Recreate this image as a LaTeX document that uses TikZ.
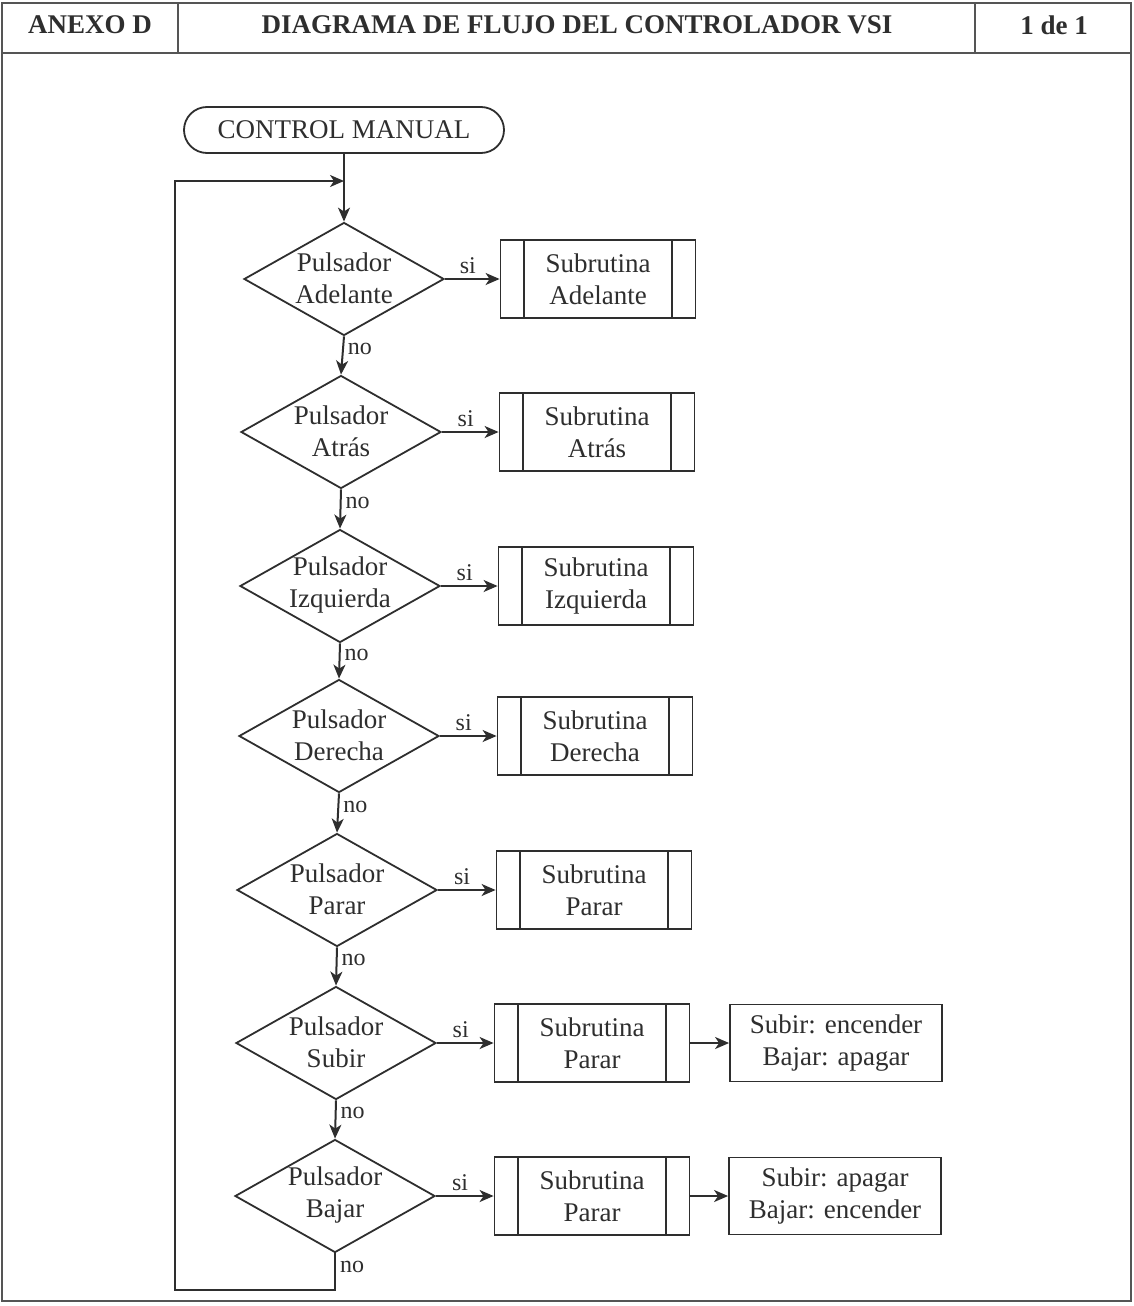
\documentclass[tikz,border=0pt]{standalone}
\usepackage{fontspec}
\setmainfont{Liberation Serif}
\usetikzlibrary{arrows.meta,shapes.geometric}
\definecolor{ink}{HTML}{2E2E2E}
\definecolor{rule}{HTML}{555555}
\begin{document}
\begin{tikzpicture}[x=1pt,y=-1pt,
  every node/.style={text=ink},
  body/.style={font=\fontsize{27}{32}\selectfont},
  small/.style={font=\fontsize{24}{28}\selectfont},
  head/.style={font=\fontsize{27}{32}\selectfont\bfseries},
  line/.style={draw=ink,line width=2pt},
  flow/.style={line,-{Stealth[length=14pt,width=12pt,inset=4pt]}},
  frame/.style={draw=rule,line width=1.5pt},
  term/.style={body,draw=ink,line width=1.8pt,rectangle,rounded corners=23pt,
    minimum width=320pt,minimum height=46pt,inner sep=0pt},
  decision/.style={diamond,draw=ink,line width=1.8pt,minimum width=200pt,
    minimum height=113pt,inner sep=0pt},
  dtext/.style={body,align=center,inner sep=0pt},
  subbox/.style={body,draw=ink,line width=1.8pt,rectangle,minimum width=195pt,
    minimum height=78pt,align=center,inner sep=0pt},
  notebox/.style={body,draw=ink,line width=1.8pt,rectangle,minimum width=212pt,
    minimum height=77pt,align=center,inner sep=0pt},
  yes/.style={small,above,inner sep=4pt},
  no/.style={small,right,inner sep=4pt}
]
\useasboundingbox (0,0) rectangle (1134,1306);

% page frame and title block
\draw[frame] (2,3) rectangle (1131,1301);
\draw[frame] (2,53) -- (1131,53);
\draw[frame] (178,3) -- (178,53);
\draw[frame] (975,3) -- (975,53);
\node[head] (hA) at (90,25) {ANEXO D};
\node[head] (hB) at (577,25) {DIAGRAMA DE FLUJO DEL CONTROLADOR VSI};
\node[head] (hC) at (1054,25) {1 de 1};

% start
\node[term] (start) at (344,130) {CONTROL MANUAL};

% decisions and subroutines
\foreach \i/\cx/\cy/\bx/\w in {1/344/279/598/Adelante,2/341/432/597/Atrás,
    3/340/586/596/Izquierda,4/339/736/595/Derecha,5/337/890/594/Parar,
    6/336/1043/592/Subir,7/335/1196/592/Bajar}{
  \node[decision] (d\i) at (\cx,\cy) {};
  \node[dtext] (t\i) at (\cx,\cy-1) {Pulsador\\\w};
}
\node[subbox] (s1) at (598,279) {Subrutina\\Adelante};
\node[subbox] (s2) at (597,432) {Subrutina\\Atrás};
\node[subbox] (s3) at (596,586) {Subrutina\\Izquierda};
\node[subbox] (s4) at (595,736) {Subrutina\\Derecha};
\node[subbox] (s5) at (594,890) {Subrutina\\Parar};
\node[subbox] (s6) at (592,1043) {Subrutina\\Parar};
\node[subbox] (s7) at (592,1196) {Subrutina\\Parar};
\foreach \i in {1,...,7}{
  \draw[line] ([xshift=24pt]s\i.north west) -- ([xshift=24pt]s\i.south west);
  \draw[line] ([xshift=-24pt]s\i.north east) -- ([xshift=-24pt]s\i.south east);
  \draw[flow] (d\i.east) -- (s\i.west) node[yes,pos=0.42] {si};
}

% extra actions
\node[notebox] (e6) at (836,1043) {Subir: encender\\Bajar: apagar};
\node[notebox] (e7) at (835,1196) {Subir: apagar\\Bajar: encender};
\draw[flow] (s6) -- (e6);
\draw[flow] (s7) -- (e7);

% main trunk
\coordinate (join) at (344,181);
\draw[flow] (start) -- (d1);
\foreach \i/\j in {1/2,2/3,3/4,4/5,5/6,6/7}{
  \draw[flow] (d\i.south) -- (d\j.north) node[no,pos=0.34] {no};
}

% return loop
\coordinate (ret) at (175,1290);
\draw[flow] (d7.south) |- (ret) node[no,pos=0.18] {no} |- (join);
\end{tikzpicture}
\end{document}
